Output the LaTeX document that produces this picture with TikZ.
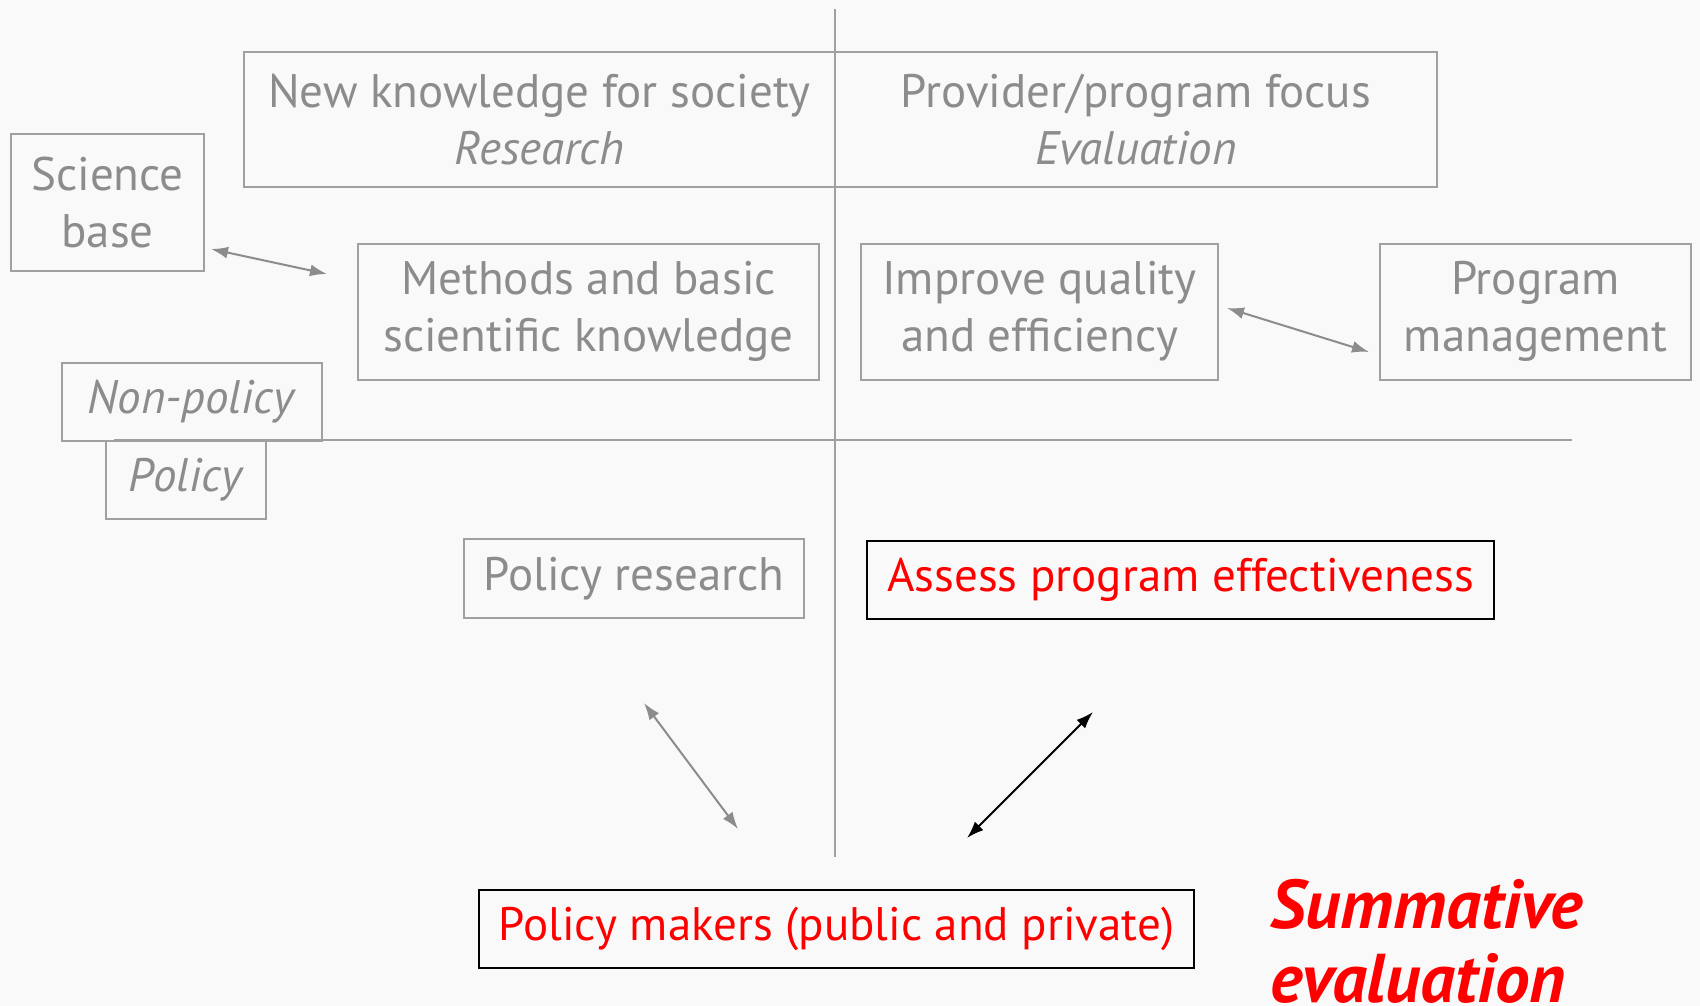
\documentclass[tikz,border=0pt]{standalone}
\usepackage{fontspec}
\setmainfont{PT Sans}
\usetikzlibrary{arrows.meta}
\definecolor{bg}{HTML}{F9F9F9}
\definecolor{txtgray}{HTML}{8C8C8C}
\definecolor{linegray}{HTML}{A0A0A0}
\definecolor{redtxt}{HTML}{FF0000}
\begin{document}
\begin{tikzpicture}[x=1pt,y=-1pt,
  gbox/.style={draw=linegray, line width=2pt, text=txtgray, align=center, inner sep=0pt,
    font=\fontsize{47}{57}\selectfont},
  rbox/.style={draw=black, line width=2.5pt, text=redtxt, align=center, inner sep=0pt,
    font=\fontsize{47}{57}\selectfont},
  grule/.style={draw=linegray, line width=2pt},
  garrow/.style={draw=txtgray, line width=2pt, {Latex[length=17pt,width=12pt]}-{Latex[length=17pt,width=12pt]}},
  karrow/.style={draw=black, line width=2pt, {Latex[length=17pt,width=12pt]}-{Latex[length=17pt,width=12pt]}}
]
\fill[bg] (0,0) rectangle (1700,1006);
\useasboundingbox (0,0) rectangle (1700,1006);

% axes
\coordinate (vtop) at (835,9);
\coordinate (vbot) at (835,857);
\coordinate (hl) at (114,440);
\coordinate (hr) at (1572,440);
\draw[grule] (vtop) -- (vbot);
\draw[grule] (hl) -- (hr);

% boxes
\node[gbox, minimum width=591pt, minimum height=135pt] (newk) at (539.5,119.5)
  {New knowledge for society\\\textit{Research}};
\node[gbox, minimum width=602pt, minimum height=135pt] (prov) at (1136,119.5)
  {Provider/program focus\\\textit{Evaluation}};
\node[gbox, minimum width=193pt, minimum height=136pt] (sci) at (107.5,202.5)
  {Science\\base};
\node[gbox, minimum width=461pt, minimum height=136pt] (meth) at (588.5,311.5)
  {Methods and basic\\scientific knowledge};
\node[gbox, minimum width=357pt, minimum height=136pt] (impr) at (1039.5,311.5)
  {Improve quality\\and efficiency};
\node[gbox, minimum width=311pt, minimum height=136pt] (prog) at (1535.5,311.5)
  {Program\\management};
\node[gbox, minimum width=260pt, minimum height=78pt] (nonpol) at (192,402)
  {\textit{Non-policy}};
\node[gbox, minimum width=160pt, minimum height=78pt] (pol) at (186,480)
  {\textit{Policy}};
\node[gbox, minimum width=340pt, minimum height=79pt] (polres) at (634,578.5)
  {Policy research};
\node[rbox, minimum width=627pt, minimum height=78pt] (assess) at (1180.5,580)
  {Assess program effectiveness};
\node[rbox, minimum width=715pt, minimum height=78pt] (makers) at (836.5,929)
  {Policy makers (public and private)};
\node[text=redtxt, align=left, anchor=north west, inner sep=0pt,
  font=\fontsize{69}{74}\selectfont\bfseries\itshape] (summ) at (1270,879)
  {Summative\\evaluation};

% arrows
\coordinate (a1s) at (211,249);
\coordinate (a1e) at (327,274);
\coordinate (a2s) at (1227,308);
\coordinate (a2e) at (1369,352);
\coordinate (a3s) at (644,703);
\coordinate (a3e) at (738,829);
\coordinate (a4s) at (1093,712);
\coordinate (a4e) at (967,838);
\draw[garrow] (a1s) -- (a1e);
\draw[garrow] (a2s) -- (a2e);
\draw[garrow] (a3s) -- (a3e);
\draw[karrow] (a4s) -- (a4e);
\end{tikzpicture}
\end{document}
